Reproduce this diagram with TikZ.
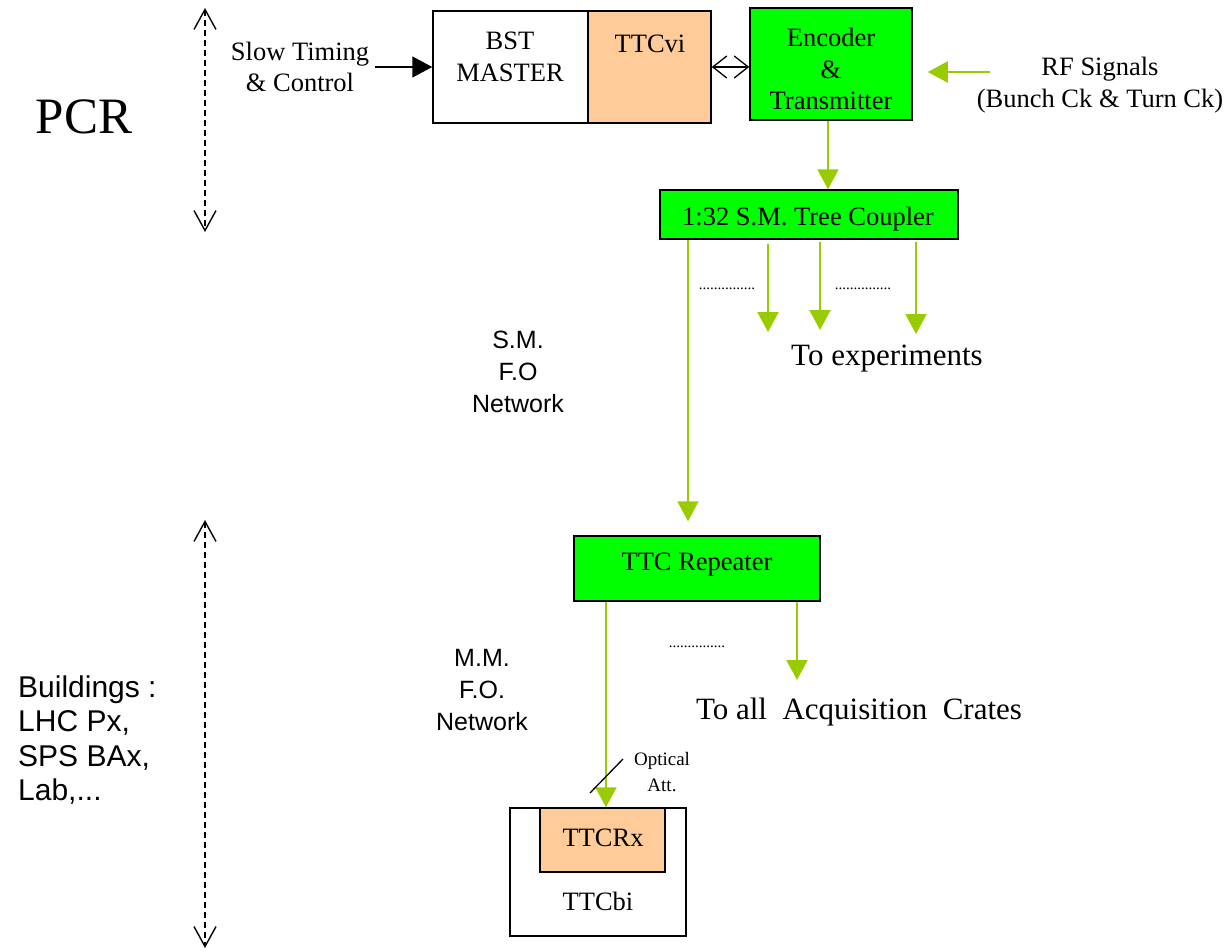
\documentclass[tikz,border=0pt]{standalone}
\usepackage{fontspec}
\setmainfont{Liberation Serif}
\setsansfont{Liberation Sans}
\usetikzlibrary{arrows.meta,calc}

\definecolor{ttcgreen}{HTML}{00FF00}
\definecolor{ttcpeach}{HTML}{FFCC99}
\definecolor{fibre}{HTML}{99CC00}

\newcommand\ttcbody{\fontsize{26.5}{31.5}\selectfont}
\newcommand\ttclarge{\fontsize{31}{37}\selectfont}
\newcommand\ttcbig{\fontsize{51}{60}\selectfont}
\newcommand\ttcnet{\sffamily\fontsize{25}{32}\selectfont}
\newcommand\ttcsite{\sffamily\fontsize{30}{34.5}\selectfont}
\newcommand\ttcsmall{\fontsize{19}{26}\selectfont}

\tikzset{
	box/.style={draw=black, line width=1.5pt, inner sep=0pt},
	txt/.style={inner sep=0pt, align=center},
	fibrearrow/.style={draw=fibre, line width=2pt, -{Triangle[width=21pt,length=20pt]}},
	span/.style={line width=1.4pt, dash pattern=on 6pt off 4pt, {Straight Barb[width=22pt,length=20pt,line width=1.4pt]}-{Straight Barb[width=22pt,length=20pt,line width=1.4pt]}},
	dots/.style={inner sep=0pt, font=\fontsize{15}{15}\selectfont}
}

\begin{document}
\begin{tikzpicture}[x=1pt, y=-1pt]
			%%%%% START %%%%%
			
			\useasboundingbox (0,0) rectangle (1232,951);
			
			% PCR part
			\coordinate (pcrtop) at (205,8);
			\coordinate (pcrbot) at (205,232);
			\draw[span] (pcrtop) -- (pcrbot);
			\node[txt, font=\ttcbig] (pcr) at (84,117) {PCR};
			
			\node[txt, font=\ttcbody] (slow) at (300,67) {Slow Timing\\\& Control};
			
			\node[box, fill=white, minimum width=155pt, minimum height=112pt] (bst) at (510.5,67) {};
			\node[box, fill=ttcpeach, minimum width=123pt, minimum height=112pt] (ttcvi) at (649.5,67) {};
			\node[txt, font=\ttcbody] (bsttext) at (510,57) {BST\\MASTER};
			\node[txt, font=\ttcbody] (ttcvitext) at (650,44) {TTCvi};
			
			\node[box, fill=ttcgreen, minimum width=162pt, minimum height=112pt] (enc) at (831,64) {};
			\node[txt, font=\ttcbody] (enctext) at (831,69) {Encoder\\\&\\Transmitter};
			
			\node[txt, font=\ttcbody] (rf) at (1100,85) {RF Signals\\(Bunch Ck \& Turn Ck)};
			\coordinate (rfstart) at (990,72);
			
			\draw[line width=1.5pt, -{Triangle[width=21pt,length=20pt]}] (slow.east |- bst.west) ++(6,0) -- (bst.west);
			\draw[line width=1.3pt, {Straight Barb[width=22pt,length=14pt]}-{Straight Barb[width=22pt,length=14pt]}] (ttcvi.east) -- (enc.west |- ttcvi.east);
			\draw[fibrearrow, shorten >=15pt] (rfstart) -- (rfstart -| enc.east);
			
			% tree coupler
			\node[box, fill=ttcgreen, minimum width=298pt, minimum height=49pt] (coupler) at (809,214.5) {};
			\node[txt, font=\ttcbody] (couplertext) at (808,219) {1:32 S.M. Tree Coupler};
			\draw[fibrearrow] (enc.south -| 828,0) -- (coupler.north -| 828,0);
			
			\coordinate (exp1) at (768,332);
			\coordinate (exp2) at (820,330);
			\coordinate (exp3) at (916,334);
			\draw[fibrearrow] (exp1 |- coupler.south) ++(0,4) -- (exp1);
			\draw[fibrearrow] (exp2 |- coupler.south) ++(0,2) -- (exp2);
			\draw[fibrearrow] (exp3 |- coupler.south) ++(0,2) -- (exp3);
			\node[dots] (dotsa) at (727,289) {...............};
			\node[dots] (dotsb) at (863,289) {...............};
			\node[txt, font=\ttclarge] (toexp) at (887,359) {To experiments};
			
			\node[txt, font=\ttcnet] (smfo) at (518,372) {S.M.\\F.O\\Network};
			
			% repeater
			\node[box, fill=ttcgreen, minimum width=246pt, minimum height=65pt] (rep) at (697,568.5) {};
			\node[txt, font=\ttcbody] (reptext) at (697,565) {TTC Repeater};
			\coordinate (trunk) at (688,0);
			\draw[fibrearrow, shorten >=14pt] (trunk |- coupler.south) -- (trunk |- rep.north);
			
			% buildings part
			\coordinate (bldtop) at (205,520);
			\coordinate (bldbot) at (205,948);
			\draw[span] (bldtop) -- (bldbot);
			\node[txt, font=\ttcsite, anchor=west, align=left] (bld) at (18,740) {Buildings :\\LHC Px,\\SPS BAx,\\Lab,...};
			
			\node[txt, font=\ttcnet] (mmfo) at (482,690) {M.M.\\F.O.\\Network};
			
			\coordinate (crates) at (797,680);
			\draw[fibrearrow] (crates |- rep.south) -- (crates);
			\node[dots] (dotsc) at (697,647) {...............};
			\node[txt, font=\ttclarge] (toall) at (859,712) {To all\ \ Acquisition\ \ Crates};
			
			% receiver
			\node[box, fill=white, minimum width=176pt, minimum height=128pt] (bi) at (598,872) {};
			\node[box, fill=ttcpeach, minimum width=125pt, minimum height=64pt] (rx) at (602.5,840) {};
			\node[txt, font=\ttcbody] (rxtext) at (603,838) {TTCRx};
			\node[txt, font=\ttcbody] (bitext) at (598,901) {TTCbi};
			
			\coordinate (rxin) at (606,0);
			\draw[fibrearrow] (rxin |- rep.south) -- (rxin |- rx.north);
			
			\coordinate (attlo) at (590,793);
			\coordinate (atthi) at (623,759);
			\draw[line width=1.3pt] (attlo) -- (atthi);
			\node[txt, font=\ttcsmall] (att) at (662,772) {Optical\\Att.};
			
			%%%%% END %%%%%
\end{tikzpicture}
\end{document}
